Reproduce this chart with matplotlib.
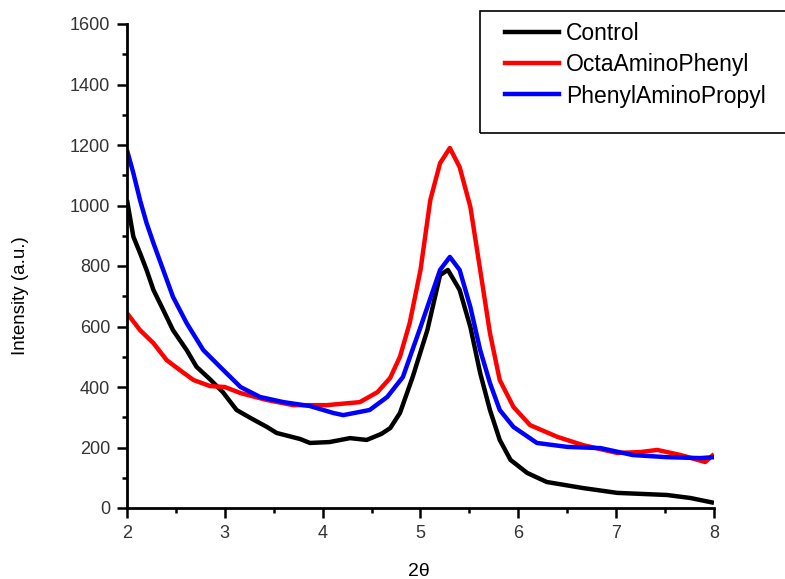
import matplotlib
matplotlib.use("Agg")
import matplotlib.pyplot as plt
from matplotlib.patches import Rectangle
from matplotlib.lines import Line2D

plt.rcParams['font.family'] = ['Liberation Sans', 'DejaVu Sans']

# Control (black)
x_control = [2.0, 2.065, 2.133, 2.2, 2.27, 2.37, 2.47, 2.61, 2.71, 2.85, 2.98, 3.12, 3.26,
             3.43, 3.53, 3.77, 3.87, 4.07, 4.28, 4.45, 4.6, 4.69, 4.79, 4.92, 5.07, 5.2,
             5.28, 5.40, 5.51, 5.61, 5.71, 5.81, 5.92, 6.09, 6.29, 6.66, 7.01, 7.52,
             7.76, 8.0]
y_control = [1018, 897, 843, 787, 721, 655, 588, 522, 467, 425, 383, 324, 298,
             268, 248, 228, 215, 218, 231, 225, 245, 264, 314, 433, 588, 770,
             787, 721, 598, 446, 324, 225, 159, 116, 86, 66, 50, 43,
             33, 17]

# OctaAminoPhenyl (red)
x_octa = [2.0, 2.133, 2.27, 2.405, 2.54, 2.68, 2.85, 3.0, 3.16, 3.43, 3.70, 4.04, 4.38,
          4.56, 4.69, 4.79, 4.89, 5.0, 5.10, 5.2, 5.30, 5.40, 5.51, 5.61, 5.71, 5.81,
          5.95, 6.12, 6.40, 6.66, 7.01, 7.25, 7.42, 7.66, 7.91, 8.0]
y_octa = [644, 588, 545, 489, 456, 423, 403, 400, 380, 357, 340, 340, 350,
          383, 430, 500, 612, 787, 1018, 1140, 1190, 1127, 995, 787, 578, 423,
          334, 274, 235, 208, 182, 185, 192, 175, 152, 178]

# PhenylAminoPropyl (blue)
x_propyl = [2.0, 2.065, 2.133, 2.2, 2.27, 2.37, 2.47, 2.61, 2.78, 2.95, 3.16, 3.36, 3.60,
            3.87, 4.11, 4.21, 4.48, 4.66, 4.82, 5.0, 5.20, 5.30, 5.40, 5.51, 5.61,
            5.71, 5.81, 5.95, 6.19, 6.50, 6.84, 7.17, 7.52, 7.86, 8.0]
y_propyl = [1183, 1107, 1018, 942, 876, 787, 698, 611, 522, 467, 400, 367, 350,
            337, 314, 307, 324, 367, 433, 598, 787, 830, 787, 664, 522,
            413, 324, 268, 215, 202, 198, 175, 168, 165, 168]

series_names = ['Control', 'OctaAminoPhenyl', 'PhenylAminoPropyl']
series_colors = ['#000000', '#ff0000', '#0000ff']

x_ticks = [2, 3, 4, 5, 6, 7, 8]
y_ticks = [0, 200, 400, 600, 800, 1000, 1200, 1400, 1600]

W, H = 785, 579
fig = plt.figure(figsize=(W/100, H/100), dpi=100)
ax = fig.add_axes([127/W, 1 - 508/H, (714 - 127)/W, (508 - 24)/H])

data = [(x_control, y_control), (x_octa, y_octa), (x_propyl, y_propyl)]
for (xs, ys), name, c in zip(data, series_names, series_colors):
    ax.plot(xs, ys, color=c, lw=3.2, label=name, solid_joinstyle='round',
            solid_capstyle='butt')

ax.set_xlim(2, 8)
ax.set_ylim(0, 1600)
ax.set_xticks(x_ticks)
ax.set_yticks(y_ticks)
ax.set_xticks([2.5, 3.5, 4.5, 5.5, 6.5, 7.5], minor=True)
ax.set_yticks(list(range(100, 1600, 200)), minor=True)
ax.spines['top'].set_visible(False)
ax.spines['right'].set_visible(False)
for s in ['left', 'bottom']:
    ax.spines[s].set_linewidth(2)
ax.tick_params(which='major', direction='out', length=7, width=1.8,
               labelsize=13, labelcolor='#333333', pad=5)
ax.tick_params(which='minor', direction='out', length=3.6, width=1.8)

fig.text(419/W, 1 - 572/H, '2θ', fontsize=14, ha='center', va='center')
fig.text(21/W, 1 - 296/H, 'Intensity (a.u.)', fontsize=13.5, ha='center', va='center',
         rotation=90)

# Legend box
fig.patches.append(Rectangle((480/W, 1 - 133/H), (790 - 480)/W, (133 - 11)/H,
                             transform=fig.transFigure, fill=False, edgecolor='black',
                             lw=1.2))
handles = [Line2D([], [], color=c, lw=3.2) for c in series_colors]
fig.legend(handles, series_names, loc='upper left', bbox_to_anchor=(505/W, 1 - 22/H),
           frameon=False, fontsize=16.5, handlelength=2.35, handletextpad=0.3,
           labelspacing=0.36, borderaxespad=0, borderpad=0)

fig.savefig('out.png', dpi=100)
